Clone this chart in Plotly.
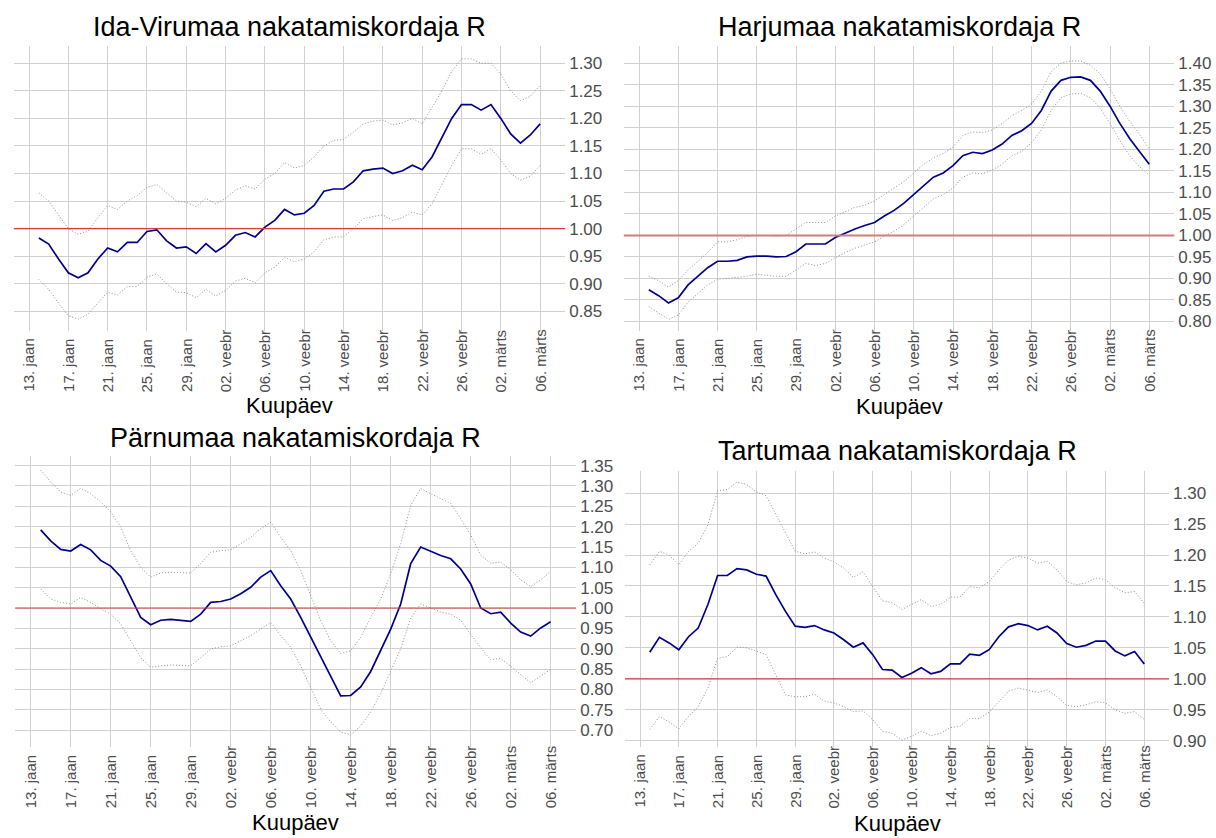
import plotly.graph_objects as go
import pandas as pd

dates = pd.date_range("2021-01-14", "2021-03-06", freq="D")
tick_dates = pd.date_range("2021-01-13", "2021-03-06", freq="4D")
tick_labels = ["13. jaan", "17. jaan", "21. jaan", "25. jaan", "29. jaan",
               "02. veebr", "06. veebr", "10. veebr", "14. veebr", "18. veebr",
               "22. veebr", "26. veebr", "02. märts", "06. märts"]

titles = ["Ida-Virumaa nakatamiskordaja R", "Harjumaa nakatamiskordaja R",
          "Pärnumaa nakatamiskordaja R", "Tartumaa nakatamiskordaja R"]
x_title = "Kuupäev"

ida_r = [0.983, 0.972, 0.945, 0.92, 0.911, 0.92, 0.945, 0.965, 0.958, 0.975, 0.975, 0.995, 0.998, 0.978, 0.965, 0.967, 0.955, 0.973,
         0.958, 0.97, 0.988, 0.993, 0.985, 1.003, 1.015, 1.035, 1.025, 1.028, 1.042, 1.068, 1.072, 1.072, 1.085, 1.105, 1.108, 1.11,
         1.10, 1.105, 1.115, 1.107, 1.13, 1.165, 1.20, 1.225, 1.225, 1.215,
         1.225, 1.20, 1.172, 1.155, 1.17, 1.19]
ida_hi = [1.065, 1.05, 1.025, 1.0, 0.99, 0.995, 1.02, 1.042, 1.035, 1.05, 1.06, 1.075, 1.08, 1.065, 1.05, 1.048, 1.04, 1.055,
          1.045, 1.055, 1.07, 1.078, 1.072, 1.09, 1.10, 1.12, 1.11, 1.115, 1.13, 1.15, 1.16, 1.162, 1.175, 1.19, 1.195, 1.197,
          1.188, 1.192, 1.20, 1.19, 1.22, 1.25, 1.285, 1.308, 1.308, 1.30,
          1.30, 1.28, 1.25, 1.232, 1.24, 1.26]
ida_lo = [0.908, 0.89, 0.865, 0.842, 0.836, 0.845, 0.865, 0.885, 0.88, 0.895, 0.895, 0.912, 0.918, 0.9, 0.885, 0.884, 0.875, 0.89,
          0.878, 0.888, 0.905, 0.91, 0.902, 0.92, 0.93, 0.948, 0.94, 0.945, 0.958, 0.98, 0.985, 0.985, 1.0, 1.018, 1.022, 1.025,
          1.015, 1.02, 1.03, 1.025, 1.045, 1.08, 1.115, 1.145, 1.145, 1.135,
          1.145, 1.125, 1.1, 1.088, 1.095, 1.115]

harju_r = [0.874, 0.86, 0.843, 0.855, 0.885, 0.905, 0.925, 0.94, 0.94, 0.942, 0.95, 0.952, 0.952, 0.95, 0.951, 0.962, 0.98, 0.98,
           0.98, 0.995, 1.005, 1.015, 1.023, 1.03, 1.045, 1.058, 1.075, 1.095, 1.115, 1.135, 1.145, 1.162, 1.185, 1.193, 1.19, 1.198,
           1.212, 1.232, 1.243, 1.26, 1.29, 1.335, 1.36, 1.367, 1.368, 1.36,
           1.335, 1.30, 1.26, 1.225, 1.195, 1.165]
harju_hi = [0.905, 0.895, 0.88, 0.895, 0.92, 0.94, 0.96, 0.985, 0.985, 0.99, 0.998, 1.0, 1.0, 0.998, 1.0, 1.015, 1.03, 1.03,
            1.03, 1.045, 1.055, 1.065, 1.07, 1.08, 1.095, 1.11, 1.125, 1.145, 1.165, 1.18, 1.19, 1.205, 1.232, 1.24, 1.238, 1.245,
            1.26, 1.278, 1.29, 1.305, 1.335, 1.38, 1.40, 1.405, 1.405, 1.395,
            1.375, 1.34, 1.30, 1.265, 1.235, 1.20]
harju_lo = [0.835, 0.82, 0.805, 0.815, 0.845, 0.865, 0.885, 0.898, 0.90, 0.902, 0.905, 0.91, 0.908, 0.905, 0.905, 0.92, 0.935, 0.93,
            0.935, 0.948, 0.96, 0.97, 0.978, 0.985, 0.998, 1.01, 1.025, 1.045, 1.065, 1.085, 1.095, 1.11, 1.135, 1.145, 1.143, 1.152,
            1.165, 1.185, 1.195, 1.215, 1.245, 1.29, 1.32, 1.328, 1.33, 1.32,
            1.295, 1.26, 1.22, 1.185, 1.16, 1.14]

parnu_r = [1.192, 1.165, 1.144, 1.14, 1.156, 1.143, 1.117, 1.103, 1.077, 1.026, 0.977, 0.959, 0.97, 0.972, 0.97, 0.967, 0.985, 1.014,
           1.016, 1.022, 1.035, 1.051, 1.076, 1.092, 1.055, 1.022, 0.977, 0.928, 0.878, 0.829, 0.784, 0.785, 0.806, 0.844, 0.895, 0.948,
           1.01, 1.109, 1.15, 1.14, 1.129, 1.121, 1.096, 1.059, 1.0, 0.986,
           0.99, 0.963, 0.941, 0.931, 0.951, 0.966]
parnu_hi = [1.339, 1.31, 1.285, 1.277, 1.294, 1.281, 1.261, 1.236, 1.199, 1.141, 1.10, 1.076, 1.086, 1.088, 1.087, 1.086, 1.109, 1.137,
            1.141, 1.143, 1.158, 1.174, 1.195, 1.211, 1.174, 1.141, 1.092, 1.03, 0.969, 0.919, 0.888, 0.895, 0.928, 0.977, 1.022, 1.084,
            1.158, 1.252, 1.294, 1.281, 1.269, 1.257, 1.22, 1.18, 1.13, 1.11,
            1.113, 1.094, 1.069, 1.053, 1.069, 1.09]
parnu_lo = [1.047, 1.022, 1.014, 1.01, 1.026, 1.014, 0.998, 0.985, 0.961, 0.919, 0.878, 0.854, 0.858, 0.86, 0.859, 0.858, 0.878, 0.899,
            0.905, 0.907, 0.919, 0.932, 0.948, 0.965, 0.932, 0.903, 0.858, 0.804, 0.751, 0.72, 0.695, 0.688, 0.71, 0.745, 0.79, 0.845,
            0.90, 0.975, 1.01, 1.0, 0.99, 0.985, 0.97, 0.935, 0.902, 0.873,
            0.876, 0.857, 0.837, 0.816, 0.833, 0.849]

tartu_r = [1.043, 1.067, 1.058, 1.047, 1.068, 1.082, 1.12, 1.167, 1.167, 1.178, 1.176, 1.169, 1.166, 1.136, 1.109, 1.085, 1.083, 1.086,
           1.079, 1.074, 1.063, 1.051, 1.058, 1.039, 1.015, 1.014, 1.002, 1.009, 1.018, 1.008, 1.012, 1.024, 1.024, 1.04, 1.038, 1.047,
           1.068, 1.084, 1.089, 1.086, 1.079, 1.085, 1.074, 1.057, 1.051, 1.054,
           1.061, 1.061, 1.045, 1.037, 1.044, 1.024]
tartu_hi = [1.184, 1.206, 1.20, 1.184, 1.206, 1.219, 1.249, 1.304, 1.306, 1.318, 1.314, 1.302, 1.296, 1.265, 1.236, 1.206, 1.202, 1.205,
            1.195, 1.189, 1.179, 1.164, 1.173, 1.149, 1.126, 1.123, 1.112, 1.12, 1.128, 1.117, 1.12, 1.132, 1.132, 1.149, 1.147, 1.157,
            1.176, 1.192, 1.198, 1.195, 1.187, 1.19, 1.176, 1.157, 1.152, 1.155,
            1.163, 1.16, 1.147, 1.139, 1.141, 1.122]
tartu_lo = [0.918, 0.939, 0.93, 0.919, 0.939, 0.955, 0.985, 1.033, 1.036, 1.051, 1.05, 1.044, 1.039, 1.006, 0.974, 0.971, 0.971, 0.975,
            0.964, 0.961, 0.955, 0.947, 0.948, 0.934, 0.915, 0.912, 0.901, 0.907, 0.915, 0.908, 0.912, 0.921, 0.923, 0.936, 0.936, 0.946,
            0.963, 0.98, 0.985, 0.982, 0.978, 0.982, 0.971, 0.957, 0.955, 0.958,
            0.963, 0.961, 0.95, 0.944, 0.947, 0.934]

W, H = 1216, 838
FONT = "Liberation Sans, Arial, Helvetica, sans-serif"
BLUE = "#00008B"
CI = "#8f8f8f"
GRID = "#d0d0d0"
TICKC = "#4d4d4d"

series = [(ida_r, ida_lo, ida_hi), (harju_r, harju_lo, harju_hi),
          (parnu_r, parnu_lo, parnu_hi), (tartu_r, tartu_lo, tartu_hi)]

# layout geometry in pixels: (left, right, top, bottom), y range, title y, axis title y, ref-line style
panels = [
    dict(px=(13.8, 565.2, 46.5, 332.5), yr=(0.8139, 1.3307), ty=27.0, ay=407, red=("#d43b3b", 1.2)),
    dict(px=(623.8, 1174.3, 46.5, 332.5), yr=(0.7773, 1.4389), ty=27.0, ay=408, red=("#cc8080", 2.0)),
    dict(px=(15.2, 576.2, 458.0, 750.0), yr=(0.6576, 1.3728), ty=440.0, ay=825, red=("#d43b3b", 1.2)),
    dict(px=(625.0, 1169.0, 473.0, 750.0), yr=(0.8892, 1.3354), ty=453.0, ay=826, red=("#d43b3b", 1.2)),
]
LABEL_DROP = 62  # px from panel bottom to the (bottom-aligned) start of the date labels

x_range = [pd.Timestamp("2021-01-13") - pd.Timedelta(hours=37.2),
           pd.Timestamp("2021-03-06") + pd.Timedelta(hours=61.2)]

fig = go.Figure()
annotations = []
shapes = []
layout = {}
for i, (p, (r, lo, hi)) in enumerate(zip(panels, series)):
    n = "" if i == 0 else str(i + 1)
    xa, ya = "x" + n, "y" + n
    for vals, color, width, dash in [(hi, CI, 1, "1px,2px"), (lo, CI, 1, "1px,2px"), (r, BLUE, 1.7, "solid")]:
        fig.add_trace(go.Scatter(x=dates, y=vals, mode="lines", xaxis=xa, yaxis=ya,
                                 line=dict(color=color, width=width, dash=dash),
                                 showlegend=False, hoverinfo="skip"))
    l, rr, t, b = p["px"]
    layout["xaxis" + n] = dict(
        domain=[l / W, rr / W], anchor=ya, type="date", range=x_range,
        tickmode="array", tickvals=tick_dates, ticktext=tick_labels,
        showticklabels=False,
        showgrid=True, gridcolor=GRID, gridwidth=1, zeroline=False, showline=False,
        ticks="")
    layout["yaxis" + n] = dict(
        domain=[1 - b / H, 1 - t / H], anchor=xa, side="right", range=list(p["yr"]),
        dtick=0.05, tick0=0, tickformat=".2f",
        showgrid=True, gridcolor=GRID, gridwidth=1, zeroline=False, showline=False,
        ticks="", ticklabelstandoff=3,
        tickfont=dict(family=FONT, size=17, color=TICKC))
    shapes.append(dict(type="line", xref=xa + " domain", yref=ya, x0=0, x1=1, y0=1.0, y1=1.0,
                       line=dict(color=p["red"][0], width=p["red"][1]), layer="above"))
    # rotated date labels, bottom-aligned like the original (placed on the date axis scale)
    for td, tl in zip(tick_dates, tick_labels):
        annotations.append(dict(text=tl, x=td, xref=xa, y=1 - (b + LABEL_DROP) / H, yref="paper",
                                textangle=-90, xanchor="center", yanchor="bottom",
                                showarrow=False, borderpad=0,
                                font=dict(family=FONT, size=15, color=TICKC)))
    cx = (l + rr) / 2 / W
    annotations.append(dict(text=titles[i], x=cx, y=1 - p["ty"] / H, xref="paper", yref="paper",
                            xanchor="center", yanchor="middle", showarrow=False,
                            font=dict(family=FONT, size=27, color="black")))
    annotations.append(dict(text=x_title, x=cx, y=1 - p["ay"] / H, xref="paper", yref="paper",
                            xanchor="center", yanchor="middle", showarrow=False,
                            font=dict(family=FONT, size=22, color="black")))

fig.update_layout(
    width=W, height=H, margin=dict(l=0, r=0, t=0, b=0),
    paper_bgcolor="white", plot_bgcolor="white",
    showlegend=False, annotations=annotations, shapes=shapes, **layout)

fig.write_html("out.html", config={"displayModeBar": False},
               post_script="document.body.style.margin='0';document.body.style.overflow='hidden';")
